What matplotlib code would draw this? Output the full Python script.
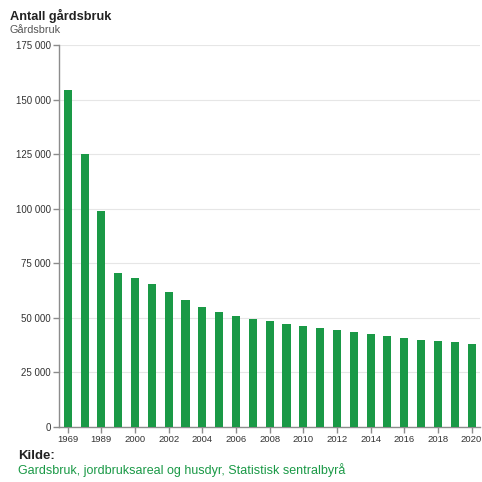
import matplotlib
matplotlib.use("Agg")
import matplotlib.pyplot as plt
from matplotlib.ticker import FuncFormatter

plt.rcParams['font.family'] = ['Liberation Sans', 'DejaVu Sans']

years = ["1969", "1979", "1989", "1999"] + [str(y) for y in range(2000, 2021)]
values = [154400, 125000, 99100, 70400, 68400, 65400, 61700, 58200, 55000, 52500,
          51000, 49500, 48600, 47300, 46300, 45200, 44400, 43400, 42600, 41800,
          40800, 40000, 39400, 38900, 38200]
yticks = [0, 25000, 50000, 75000, 100000, 125000, 150000, 175000]

title = "Antall gårdsbruk"
subtitle = "Gårdsbruk"
source_label = "Kilde:"
source_text = "Gardsbruk, jordbruksareal og husdyr, Statistisk sentralbyrå"

green = "#1a9946"

fig = plt.figure(figsize=(4.82, 4.82), dpi=100)
ax = fig.add_axes([59.3 / 482, 55 / 482, (480.0 - 59.3) / 482, 382 / 482])

x = list(range(len(years)))
ax.bar(x, values, width=0.48, color=green, zorder=3)
ax.set_xlim(-0.5, len(years) - 0.5)
ax.set_ylim(0, 175000)
ax.set_yticks(yticks)
ax.yaxis.set_major_formatter(FuncFormatter(lambda v, p: f"{int(v):,}".replace(",", " ")))
ax.set_xticks(x[::2])
ax.set_xticklabels(years[::2])

ax.grid(axis='y', color='#e6e6e6', linewidth=0.8, zorder=0)
for s in ['top', 'right']:
    ax.spines[s].set_visible(False)
for s in ['left', 'bottom']:
    ax.spines[s].set_color('#8c8c8c')
    ax.spines[s].set_linewidth(1.0)
ax.tick_params(axis='y', colors='#8c8c8c', labelcolor='#333333', labelsize=7,
               length=4, width=1.0, pad=2)
ax.tick_params(axis='x', colors='#8c8c8c', labelcolor='#333333', labelsize=6.8,
               length=4, width=1.0, pad=2)

fig.text(10 / 482, 1 - 16 / 482, title, fontsize=9.2, fontweight='bold', color='#222222', va='center')
fig.text(10 / 482, 1 - 30 / 482, subtitle, fontsize=7.8, color='#555555', va='center')
fig.text(18 / 482, 1 - 456 / 482, source_label, fontsize=9.5, fontweight='bold', color='#222222', va='center')
fig.text(18 / 482, 1 - 470 / 482, source_text, fontsize=9, color=green, va='center')

fig.savefig("out.png", dpi=100)
